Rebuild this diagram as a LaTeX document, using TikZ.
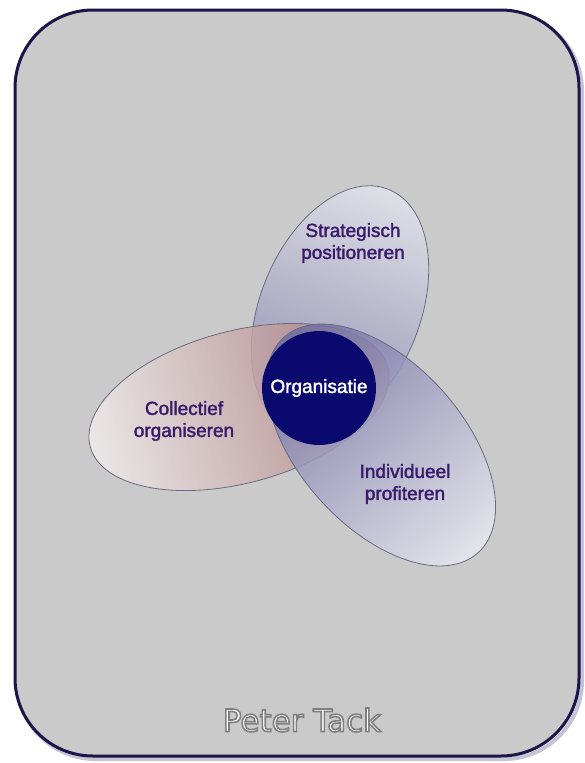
\documentclass[tikz,border=0pt]{standalone}
\usepackage{fontspec}
\setmainfont{Liberation Sans}
\newfontfamily\peterfont{DejaVu Sans}
\definecolor{bggray}{HTML}{CACACA}
\definecolor{bordercol}{HTML}{1E1448}
\definecolor{shadowc}{HTML}{8A8AB0}
\definecolor{navy}{HTML}{0A0A6E}
\definecolor{txtpurple}{HTML}{3A1A6A}
\definecolor{lobeline}{HTML}{6A6A80}
\definecolor{updark}{HTML}{8080AA}
\definecolor{uplight}{HTML}{E4E4EE}
\definecolor{lowdark}{HTML}{6A6AA0}
\definecolor{lowlight}{HTML}{EAEAF2}
\definecolor{leftdark}{HTML}{A87474}
\definecolor{leftlight}{HTML}{F2EEEE}
\newcommand{\heavytxt}[1]{\special{pdf:literal direct 0.35 w 2 Tr}#1\special{pdf:literal direct 0 Tr}}
\begin{document}
\begin{tikzpicture}[x=1pt,y=-1pt,
  lbl/.style={text=txtpurple, font=\fontsize{19}{22}\selectfont, align=center, inner sep=0pt},
  lobe/.style={draw=lobeline, line width=0.8pt, fill opacity=0.82}]
\useasboundingbox (0,0) rectangle (585,763);
\fill[white] (0,0) rectangle (585,763);
% frame
\draw[shadowc, line width=4pt, opacity=0.5, rounded corners=78pt] (17.5,13) rectangle (582,759);
\draw[fill=bggray, draw=bordercol, line width=3pt, rounded corners=78pt] (15,10) rectangle (579,756);
% lobes
\begin{scope}[transform canvas={shift={(340,310)},rotate=68}]
  \draw[lobe, left color=updark, right color=uplight] (0,0) ellipse [x radius=130, y radius=80];
\end{scope}
\begin{scope}[transform canvas={shift={(239,407)},rotate=15}]
  \draw[lobe, left color=leftlight, right color=leftdark] (0,0) ellipse [x radius=154, y radius=76];
\end{scope}
\begin{scope}[transform canvas={shift={(381,445)},rotate=-48}]
  \draw[lobe, left color=lowdark, right color=lowlight] (0,0) ellipse [x radius=145, y radius=82];
\end{scope}
% centre
\node[circle, fill=navy, minimum size=114pt, inner sep=0pt, text=white,
      font=\fontsize{19}{22}\selectfont] (org) at (319,388) {\heavytxt{Organisatie}};
% labels
\node[lbl] (strat) at (353,243) {\heavytxt{Strategisch}\\\heavytxt{positioneren}};
\node[lbl] (coll) at (184,421) {\heavytxt{Collectief}\\\heavytxt{organiseren}};
\node[lbl] (indiv) at (405,484) {\heavytxt{Individueel}\\\heavytxt{profiteren}};
% signature
\node[text=white, inner sep=0pt, font=\peterfont\fontsize{31}{31}\selectfont] (author) at (302,720)
  {\special{pdf:literal direct 0.5 G 1.6 w 2 Tr}Peter Tack\special{pdf:literal direct 0 Tr}};
\end{tikzpicture}
\end{document}
